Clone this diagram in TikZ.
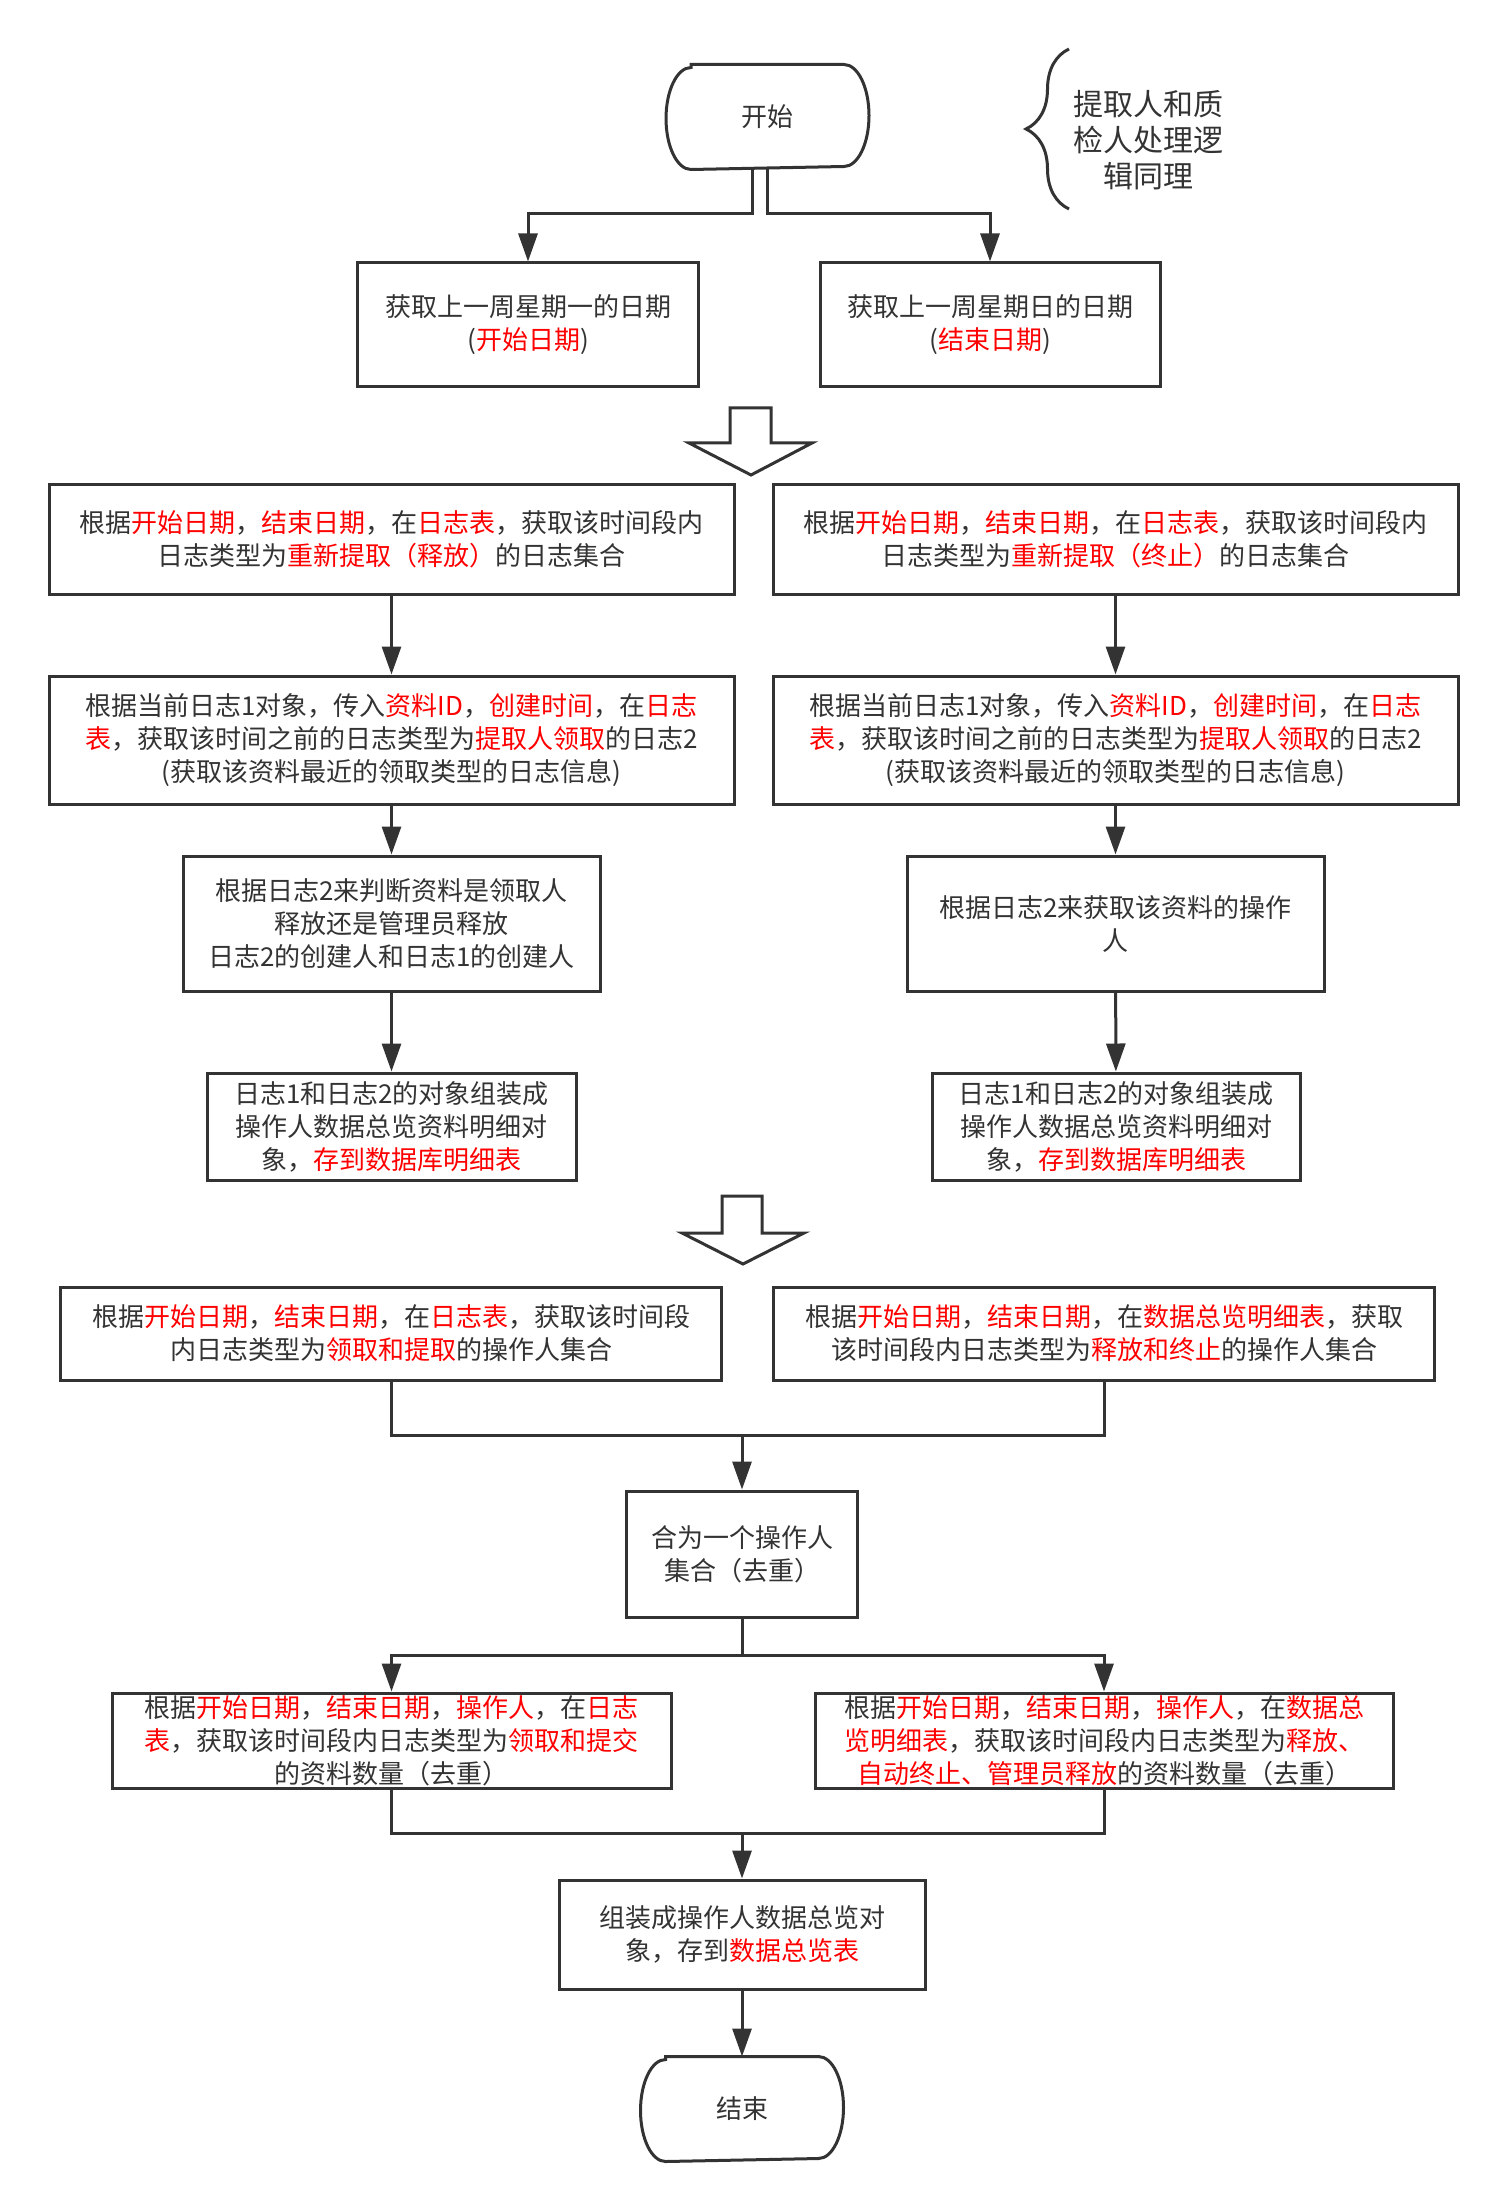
\documentclass[tikz,border=0pt]{standalone}
\usepackage{xcolor}
\usepackage{fontspec}
\usepackage{tikz}
\usetikzlibrary{arrows.meta, decorations.pathreplacing, positioning, calc}
\newfontfamily\cjkfont{Noto Sans CJK SC}
\definecolor{flowgray}{HTML}{333333}
\definecolor{keyred}{HTML}{FF0000}
\newcommand{\redtxt}[1]{\textcolor{keyred}{#1}}
% outline of a start/end terminal around a named node
\newcommand{\termoutline}[1]{%
  \draw[flow] ([xshift=12.5pt]#1.north west) -- ([xshift=-12.5pt]#1.north east)
    arc[start angle=90, end angle=-90, x radius=12.5pt, y radius=25.5pt]
    -- ([xshift=12.5pt]#1.south west)
    arc[start angle=270, end angle=90, x radius=12.5pt, y radius=25.5pt] -- cycle;}

\begin{document}
\begin{tikzpicture}[x=0.5pt, y=-0.5pt,
    box/.style={rectangle, draw=flowgray, line width=1.5pt, fill=white, align=center, inner sep=0pt,
      text=flowgray, font=\cjkfont\fontsize{13pt}{16.5pt}\selectfont},
    term/.style={box, draw=none, minimum width=100pt, minimum height=51pt},
    note/.style={align=center, inner sep=0pt, text=flowgray, font=\cjkfont\fontsize{15pt}{18pt}\selectfont},
    flow/.style={draw=flowgray, line width=1.5pt},
    flowarrow/.style={flow, -{Triangle[length=14pt, width=9.5pt]}},
    bigarrow/.style={draw=flowgray, line width=1.5pt, fill=white, line join=miter}]
    \useasboundingbox (0,0) rectangle (1507,2209);

    % Start and the two dates
    \node (start) [term] at (767.5,117) {开始};
    \termoutline{start}
    \node (note) [note] at (1148,140) {提取人和质\\检人处理逻\\辑同理};
    \draw[flow, decorate, decoration={brace, amplitude=21.5pt}] (1069,209) -- (1069,49);

    \node (mon) [box, minimum width=170.5pt, minimum height=62pt] at (528,325) {获取上一周星期一的日期\\(\redtxt{开始日期})};
    \node (sun) [box, minimum width=170pt, minimum height=62pt] at (990,325) {获取上一周星期日的日期\\(\redtxt{结束日期})};

    \coordinate (jl) at (528,214);
    \coordinate (jr) at (990,214);
    \draw[flowarrow] ([xshift=-7.5pt]start.south) |- (jl) -- (mon.north);
    \draw[flowarrow] (start.south) |- (jr) -- (sun.north);

    \draw[bigarrow] (730,408) -- (771,408) -- (771,443) -- (812,443) -- (751,475) -- (689,443) -- (730,443) -- cycle;

    % Release branch (left) and stop branch (right)
    \node (relset) [box, minimum width=342.5pt, minimum height=54.5pt] at (391.5,539.5) {根据\redtxt{开始日期}，\redtxt{结束日期}，在\redtxt{日志表}，获取该时间段内\\日志类型为\redtxt{重新提取（释放）}的日志集合};
    \node (stpset) [box, minimum width=342.5pt, minimum height=54.5pt] at (1115.5,539.5) {根据\redtxt{开始日期}，\redtxt{结束日期}，在\redtxt{日志表}，获取该时间段内\\日志类型为\redtxt{重新提取（终止）}的日志集合};

    \node (rellog) [box, minimum width=342.5pt, minimum height=64pt] at (391.5,740) {根据当前日志1对象，传入\redtxt{资料ID}，\redtxt{创建时间}，在\redtxt{日志}\\\redtxt{表}，获取该时间之前的日志类型为\redtxt{提取人领取}的日志2\\(获取该资料最近的领取类型的日志信息)};
    \node (stplog) [box, minimum width=342.5pt, minimum height=64pt] at (1115.5,740) {根据当前日志1对象，传入\redtxt{资料ID}，\redtxt{创建时间}，在\redtxt{日志}\\\redtxt{表}，获取该时间之前的日志类型为\redtxt{提取人领取}的日志2\\(获取该资料最近的领取类型的日志信息)};

    \node (relwho) [box, minimum width=208.5pt, minimum height=67.5pt] at (391.5,923.5) {根据日志2来判断资料是领取人\\释放还是管理员释放\\日志2的创建人和日志1的创建人};
    \node (stpwho) [box, minimum width=208.5pt, minimum height=67.5pt] at (1115.5,923.5) {根据日志2来获取该资料的操作\\人};

    \node (relsave) [box, minimum width=184.5pt, minimum height=53.5pt] at (391.5,1126.5) {日志1和日志2的对象组装成\\操作人数据总览资料明细对\\象，\redtxt{存到数据库明细表}};
    \node (stpsave) [box, minimum width=184pt, minimum height=53.5pt] at (1116,1126.5) {日志1和日志2的对象组装成\\操作人数据总览资料明细对\\象，\redtxt{存到数据库明细表}};

    \draw[flowarrow] (relset) -- (rellog);
    \draw[flowarrow] (rellog) -- (relwho);
    \draw[flowarrow] (relwho) -- (relsave);
    \draw[flowarrow] (stpset) -- (stplog);
    \draw[flowarrow] (stplog) -- (stpwho);
    \draw[flowarrow] (stpwho) -- (stpsave);

    \draw[bigarrow] (722,1196) -- (762,1196) -- (762,1233) -- (804,1233) -- (743,1264) -- (682,1233) -- (722,1233) -- cycle;

    % Operator sets
    \node (takeops) [box, minimum width=330.5pt, minimum height=46.5pt] at (391,1333.5) {根据\redtxt{开始日期}，\redtxt{结束日期}，在\redtxt{日志表}，获取该时间段\\内日志类型为\redtxt{领取和提取}的操作人集合};
    \node (freeops) [box, minimum width=330.5pt, minimum height=46.5pt] at (1104,1333.5) {根据\redtxt{开始日期}，\redtxt{结束日期}，在\redtxt{数据总览明细表}，获取\\该时间段内日志类型为\redtxt{释放和终止}的操作人集合};
    \node (allops) [box, minimum width=115.5pt, minimum height=63pt] at (742,1554) {合为一个操作人\\集合（去重）};

    \coordinate (mj1) at (742,1435);
    \draw[flow] (takeops.south) |- (mj1);
    \draw[flow] (freeops.south) |- (mj1);
    \draw[flowarrow] (mj1) -- (allops.north);

    % Counts per operator
    \node (takecnt) [box, minimum width=279.5pt, minimum height=47.5pt] at (391.5,1740.5) {根据\redtxt{开始日期}，\redtxt{结束日期}，\redtxt{操作人}，在\redtxt{日志}\\\redtxt{表}，获取该时间段内日志类型为\redtxt{领取和提交}\\的资料数量（去重）};
    \node (freecnt) [box, minimum width=289pt, minimum height=47.5pt] at (1104,1740.5) {根据\redtxt{开始日期}，\redtxt{结束日期}，\redtxt{操作人}，在\redtxt{数据总}\\\redtxt{览明细表}，获取该时间段内日志类型为\redtxt{释放、}\\\redtxt{自动终止、管理员释放}的资料数量（去重）};

    \coordinate (sj) at (742,1655);
    \draw[flow] (allops.south) -- (sj);
    \draw[flowarrow] (sj) -| (takecnt.north);
    \draw[flowarrow] (sj) -| (freecnt.north);

    \node (summary) [box, minimum width=183pt, minimum height=54.5pt] at (742,1934.5) {组装成操作人数据总览对\\象，存到\redtxt{数据总览表}};
    \coordinate (mj2) at (742,1833);
    \draw[flow] (takecnt.south) |- (mj2);
    \draw[flow] (freecnt.south) |- (mj2);
    \draw[flowarrow] (mj2) -- (summary.north);

    % End
    \node (finish) [term] at (742,2109) {结束};
    \termoutline{finish}
    \draw[flowarrow] (summary) -- (finish.north);
\end{tikzpicture}
\end{document}
